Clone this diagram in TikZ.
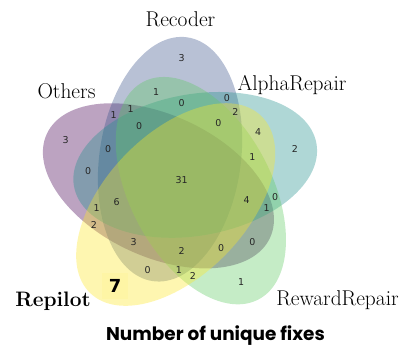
\documentclass[tikz,border=0pt]{standalone}
\usepackage{fontspec}
\newfontfamily\countfont{DejaVu Sans}
\newfontfamily\titlefont{Poppins}
\definecolor{setA}{HTML}{440154}
\definecolor{setB}{HTML}{3B528B}
\definecolor{setC}{HTML}{21918C}
\definecolor{setD}{HTML}{5EC962}
\definecolor{setE}{HTML}{FDE725}
\tikzset{
  setfill/.style={fill=#1, fill opacity=0.36, draw=none},
  count/.style={font=\countfont\fontsize{9.5}{11}\selectfont, text=black!85, inner sep=0pt},
  setname/.style={font=\fontsize{21.5}{26}\selectfont, anchor=base, inner sep=0pt},
}
\begin{document}
\begin{tikzpicture}[x=1bp, y=-1bp]
  \useasboundingbox (0,0) rectangle (408,346);
  % five-set Venn diagram, unit square scaled to 283bp
  \begin{scope}[shift={(37.3,312.9)}, x=283bp, y=283bp]
    \fill[setfill=setA, shift={(0.428,0.449)}, rotate=155] (0,0) ellipse [x radius=0.435, y radius=0.25];
    \fill[setfill=setB, shift={(0.469,0.543)}, rotate=82]  (0,0) ellipse [x radius=0.435, y radius=0.25];
    \fill[setfill=setC, shift={(0.558,0.523)}, rotate=10]  (0,0) ellipse [x radius=0.435, y radius=0.25];
    \fill[setfill=setD, shift={(0.578,0.432)}, rotate=118] (0,0) ellipse [x radius=0.435, y radius=0.25];
    \fill[setfill=setE, shift={(0.489,0.383)}, rotate=46]  (0,0) ellipse [x radius=0.435, y radius=0.25];
    % region counts
    \foreach \px/\py/\v/\id in {
      0.72/0.11/1/00010, 0.55/0.13/2/00011, 0.91/0.58/2/00100, 0.78/0.64/4/00101,
      0.84/0.41/0/00110, 0.76/0.55/1/00111, 0.51/0.90/3/01000, 0.39/0.15/0/01001,
      0.42/0.78/1/01010, 0.50/0.15/1/01011, 0.67/0.76/0/01100, 0.70/0.71/2/01101,
      0.51/0.74/0/01110, 0.64/0.67/0/01111, 0.10/0.61/3/10000, 0.20/0.31/2/10001,
      0.76/0.25/0/10010, 0.65/0.23/0/10011, 0.18/0.50/0/10100, 0.21/0.37/1/10101,
      0.81/0.37/1/10110, 0.74/0.40/4/10111, 0.27/0.70/1/11000, 0.34/0.25/3/11001,
      0.33/0.72/1/11010, 0.51/0.22/2/11011, 0.25/0.58/0/11100, 0.28/0.39/6/11101,
      0.36/0.66/0/11110, 0.51/0.47/31/11111}
      \node[count] (r\id) at (\px,\py) {\v};
  \end{scope}
  % highlighted count for Repilot only
  \node[fill=setE, fill opacity=0.08, text opacity=1, minimum width=26bp, minimum height=26bp,
        font=\countfont\bfseries\fontsize{18}{20}\selectfont, inner sep=2pt] (r00001) at (115,285.5) {7};
  % set names
  \node[setname] (nameA) at (66.5,98) {Others};
  \node[setname] (nameB) at (180.5,26) {Recoder};
  \node[setname] (nameC) at (292,90) {AlphaRepair};
  \node[setname] (nameD) at (337.5,305) {RewardRepair};
  \node[setname, font=\bfseries\fontsize{21}{26}\selectfont] (nameE) at (53,306) {Repilot};
  % caption
  \node[anchor=base, inner sep=0pt, font=\titlefont\bfseries\fontsize{18.5}{22}\selectfont] (caption) at (215.5,340) {Number of unique fixes};
\end{tikzpicture}
\end{document}
